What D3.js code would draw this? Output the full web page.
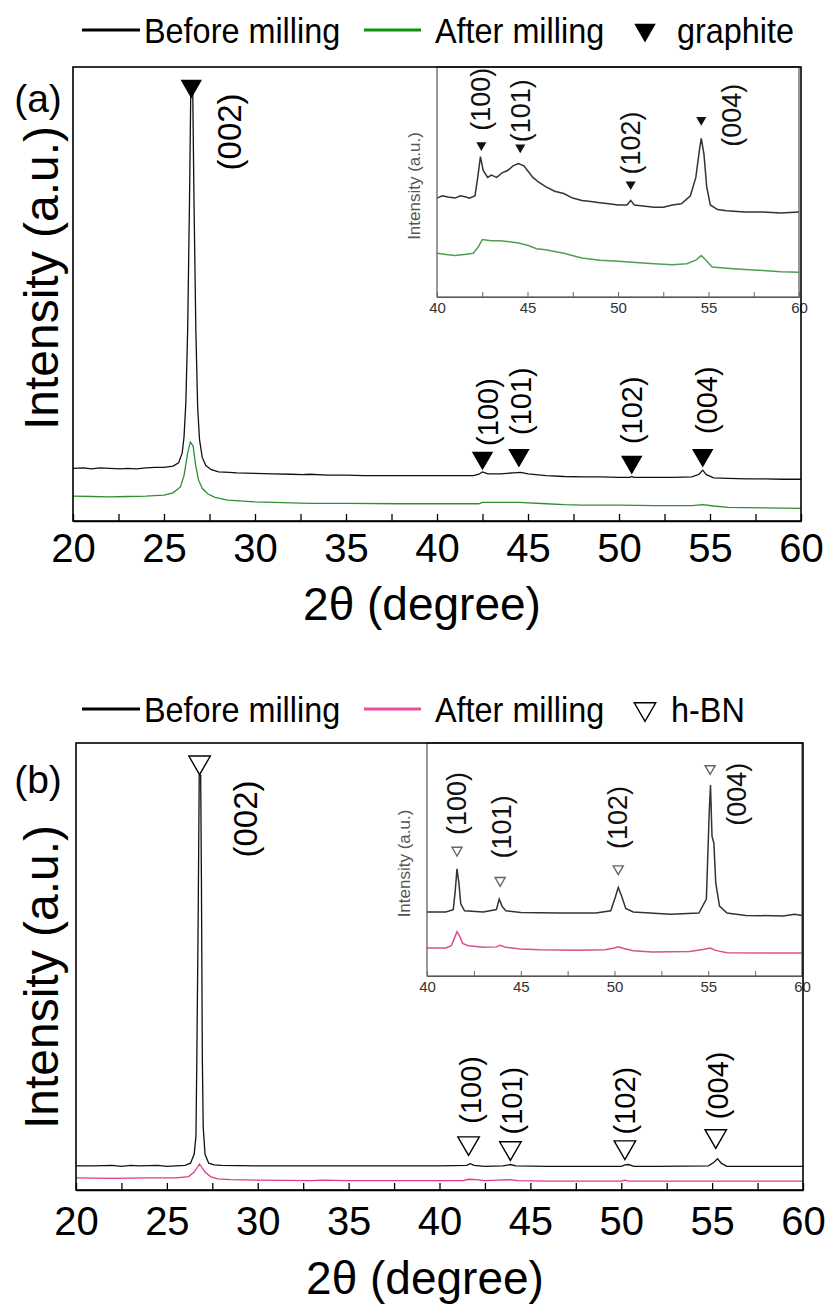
<!DOCTYPE html>
<html>
<head>
<meta charset="utf-8">
<script src="https://cdn.jsdelivr.net/npm/d3@7"></script>
<style>
  html, body { margin: 0; padding: 0; background: #fff; }
  svg { display: block; font-family: "Liberation Sans", Arial, Helvetica, sans-serif; }
</style>
</head>
<body>
<svg id="fig" width="827" height="1311"></svg>
<script>
// ---------- axis ticks ----------
const mainTickValues = [20, 22.5, 25, 27.5, 30, 32.5, 35, 37.5, 40, 42.5, 45, 47.5, 50, 52.5, 55, 57.5, 60];
const mainTickLabels = [20, 25, 30, 35, 40, 45, 50, 55, 60];
const insetTickValues = [40, 42.5, 45, 47.5, 50, 52.5, 55, 57.5, 60];
const insetTickLabels = [40, 45, 50, 55, 60];

// ---------- (a) graphite, full scan [2theta, intensity a.u.] ----------
const graphiteBefore = [
  [20,116],[20.6,117],[21,115],[21.5,117],[22,116],[22.6,115],[23,116],[23.5,115],[24,117],[24.5,118],
  [25,118],[25.5,121],[25.8,128],[26.0,150],[26.1,185],[26.2,260],[26.3,420],[26.4,700],[26.47,943],
  [26.58,943],[26.65,700],[26.75,420],[26.85,250],[26.95,180],[27.1,140],[27.3,122],[27.6,113],[28,108],
  [28.6,107],[29,106],[30,105],[31,104],[32,103],[32.6,102],[33,103],[34,101],[35,101],[36,100],[38,100],
  [40,100],[41,100],[42,100],[42.3,103],[42.5,108],[42.8,104],[43.5,104],[44.2,106],[44.6,107],[45,104],
  [46,100],[47,98],[48,97],[49,97],[50,96],[50.6,96],[50.7,98],[50.8,96],[52,96],[53,96],[54,97],
  [54.4,103],[54.6,112],[54.8,102],[55.2,95],[56,94],[57,93],[58,93],[59,92],[60,92]
];
const graphiteAfter = [
  [20,55],[21,54],[22,53],[23,54],[24,55],[25,57],[25.5,62],[25.9,75],[26.1,100],[26.3,150],[26.45,174],
  [26.6,165],[26.75,120],[26.9,90],[27.1,72],[27.4,60],[27.8,52],[28.5,46],[30,42],[32,40],[33,39],
  [35,39],[38,38],[40,38],[42.3,38],[42.5,41],[44.5,41],[46,38],[47,36],[48,35],[50,35],[52,34],
  [54,34],[54.6,36],[55.2,33],[56,30],[58,29],[60,28]
];
// (a) inset, 40-60 deg
const graphiteBeforeZoom = [
  [40,43],[40.3,44],[40.6,43.5],[41,43],[41.3,44],[41.6,43.5],[41.8,43],[42.1,44],[42.25,52],[42.4,61],
  [42.55,55],[42.8,52],[43,53],[43.3,52],[43.6,54],[43.9,55],[44.2,57],[44.5,58],[44.8,57],[45,55],
  [45.3,52],[45.6,50],[46,48],[46.5,46],[47,45],[47.5,43],[48,42],[48.5,41.5],[49,41],[49.5,40.5],
  [50,40],[50.5,40],[50.7,42],[50.9,40],[51.5,39.5],[52,39],[52.5,39],[53,40],[53.5,40.5],[54,44],
  [54.3,52],[54.5,64],[54.6,69],[54.75,62],[54.9,48],[55.1,40],[55.5,38],[56,37.5],[57,37],[58,37],
  [59,36.5],[60,37]
];
const graphiteAfterZoom = [
  [40,19],[40.5,18.5],[41,18],[41.5,18.5],[42,19],[42.3,22],[42.5,25],[43,24.5],[43.5,24.5],[44,24],
  [44.5,23.5],[45,22.5],[45.5,21],[46,20.5],[47,19],[48,17],[49,16],[50,15.5],[51,15],[52,14.5],
  [53,14],[53.8,14.5],[54.3,16],[54.6,18],[54.8,16.5],[55.2,13],[56,12.5],[57,12],[58,11.5],[59,11],
  [60,10.8]
];

// ---------- (b) h-BN, full scan ----------
const hbnBefore = [
  [20,54],[21,54],[22,55],[22.5,53],[23,55],[23.5,54],[24.5,55],[25,53],[25.5,54],[26,55],[26.3,60],
  [26.5,80],[26.6,120],[26.65,300],[26.72,600],[26.78,928],[26.86,928],[26.9,700],[26.95,300],[27,140],
  [27.1,80],[27.3,60],[27.6,56],[28,55],[30,54],[35,54],[40,54],[41.5,55],[41.7,59],[41.9,55],[42.5,53],
  [43.5,54],[43.9,57],[44.2,54],[46,53],[50,53],[50.2,56],[50.4,57],[50.7,53],[52,53],[54.8,54],
  [55.1,62],[55.3,70],[55.5,60],[55.8,53],[57,53],[60,53]
];
const hbnAfter = [
  [20,27],[22,26],[24,27],[25.5,27],[26.2,30],[26.5,40],[26.7,52],[26.8,58],[26.9,52],[27.1,40],
  [27.4,30],[27.8,25],[28.5,23],[30,22],[33,21],[33.5,22],[35,21],[40,21],[41.3,21],[41.6,24],[42,23],
  [42.5,21],[43.2,22],[43.9,23],[44.3,21],[46,20],[50,20],[50.2,22],[50.4,20],[55,20],[60,20]
];
// (b) inset, 40-60 deg
const hbnBeforeZoom = [
  [40,27.5],[41,27.5],[41.4,28.5],[41.5,36],[41.6,46],[41.7,40],[41.8,31],[42,28],[43,27.5],[43.7,28.5],
  [43.85,33],[44,30],[44.2,28],[45,27.3],[47,27],[49,27],[49.8,28],[50.05,34],[50.2,38],[50.35,35],
  [50.6,29],[51,27.5],[53,26.5],[54.5,27],[54.9,33],[55.05,70],[55.12,82],[55.2,60],[55.3,57],[55.4,40],
  [55.6,30],[56,27],[57,26],[59,25.8],[59.6,26.5],[60,26]
];
const hbnAfterZoom = [
  [40,12],[41,12],[41.3,13],[41.5,17],[41.6,19],[41.75,17],[41.9,14],[42.2,13],[43,12.3],[43.7,12.5],
  [43.9,13.2],[44.2,12.3],[45,11.6],[46,11.3],[48,11.1],[49.5,11.3],[50,12],[50.2,12.5],[50.5,11.8],
  [51,10.8],[52,10.3],[54,10.5],[54.8,11.5],[55.1,12],[55.4,11],[56,10],[58,9.9],[60,9.9]
];

// ---------- reflections ----------
const graphiteHkl = ["(002)", "(100)", "(101)", "(102)", "(004)"];
const graphitePos = [26.5, 42.5, 44.5, 50.7, 54.6];
const graphiteMarkLevel = [958, 139, 145, 130, 145];
const graphiteLabelPos = [28.6, 42.8, 44.6, 50.7, 54.8];
const graphiteLabelLevel = [857, 240, 264, 244, 266];

const graphiteZoomHkl = ["(100)", "(101)", "(102)", "(004)"];
const graphiteZoomPos = [42.45, 44.6, 50.7, 54.6];
const graphiteZoomMark = [66, 65, 49, 77];
const graphiteZoomLabelPos = [42.4, 44.6, 50.7, 56.3];
const graphiteZoomLabelLevel = [86, 81, 67, 79];

const hbnHkl = ["(002)", "(100)", "(101)", "(102)", "(004)"];
const hbnPos = [26.8, 41.6, 43.9, 50.2, 55.2];
const hbnMarkLevel = [957, 105, 94, 96, 121];
const hbnLabelPos = [29.3, 41.7, 44.0, 50.2, 55.3];
const hbnLabelLevel = [830, 224, 200, 200, 234];

const hbnZoomHkl = ["(100)", "(101)", "(102)", "(004)"];
const hbnZoomPos = [41.6, 43.9, 50.2, 55.1];
const hbnZoomMark = [54, 41, 46, 89];
const hbnZoomLabelPos = [41.6, 44.0, 50.15, 56.5];
const hbnZoomLabelLevel = [74, 64, 68, 78];

// ---------- drawing ----------
const svg = d3.select("#fig");

function tri(g, cx, cy, size, filled, color) {
  g.append("path")
    .attr("d", d3.symbol().type(d3.symbolTriangle).size(size)())
    .attr("transform", `translate(${cx},${cy}) rotate(180)`)
    .attr("fill", filled ? color : "#fff")
    .attr("stroke", color)
    .attr("stroke-width", filled ? 0 : 1.4);
}

function rotLabel(g, x, y, text, size, color) {
  g.append("text")
    .attr("transform", `translate(${x},${y}) rotate(-90)`)
    .attr("text-anchor", "middle")
    .attr("dy", "0.35em")
    .attr("font-size", size)
    .attr("fill", color)
    .text(text);
}

// slightly narrow legend lettering
function legendText(g, x, y, text) {
  g.append("text")
    .attr("transform", `translate(${x},${y}) scale(0.9,1)`)
    .attr("dy", "0.35em")
    .attr("font-size", 36)
    .text(text);
}

function drawPanel(p) {
  const g = svg.append("g");
  const x = d3.scaleLinear().domain([20, 60]).range([p.frame.x0, p.frame.x1]);
  const y = d3.scaleLinear().domain([0, 1000]).range([p.frame.y1, p.frame.y0]);
  const line = d3.line().x(d => x(d[0])).y(d => y(d[1]));

  // legend
  const lg = g.append("g");
  lg.append("line").attr("x1", 82).attr("x2", 140).attr("y1", p.legendY).attr("y2", p.legendY)
    .attr("stroke", "#000").attr("stroke-width", 3);
  legendText(lg, 144, p.legendY, "Before milling");
  lg.append("line").attr("x1", 364).attr("x2", 421).attr("y1", p.legendY).attr("y2", p.legendY)
    .attr("stroke", p.legendColor).attr("stroke-width", 3);
  legendText(lg, 435, p.legendY, "After milling");
  tri(lg, 645, p.legendY, 200, p.filled, "#000");
  legendText(lg, p.filled ? 677 : 671, p.legendY, p.phase);

  // panel tag and titles
  g.append("text").attr("x", 38).attr("y", p.tagY).attr("dy", "0.35em").attr("text-anchor", "middle")
    .attr("font-size", 39).text(p.tag);
  rotLabel(g, 41, p.yTitleY, "Intensity (a.u.)", 48, "#000");
  g.append("text").attr("x", p.xTitleX).attr("y", p.xTitleY).attr("dy", "0.35em")
    .attr("text-anchor", "middle").attr("font-size", 46).text("2\u03b8 (degree)");

  // traces
  g.append("path").datum(p.after).attr("d", line).attr("fill", "none")
    .attr("stroke", p.afterColor).attr("stroke-width", 1.3);
  g.append("path").datum(p.before).attr("d", line).attr("fill", "none")
    .attr("stroke", "#111").attr("stroke-width", 1.3);

  // reflection markers and labels
  p.hkl.forEach((h, i) => {
    tri(g, x(p.pos[i]), y(p.mark[i]), 200, p.filled, "#000");
    rotLabel(g, x(p.labelPos[i]), y(p.labelLevel[i]), h, i === 0 ? 33 : 29, "#000");
  });

  // inset
  drawInset(g, p);

  // frame and bottom axis
  g.append("rect").attr("x", p.frame.x0).attr("y", p.frame.y0)
    .attr("width", p.frame.x1 - p.frame.x0).attr("height", p.frame.y1 - p.frame.y0)
    .attr("fill", "none").attr("stroke", "#000").attr("stroke-width", 1.6);
  const ax = g.append("g").attr("transform", `translate(0,${p.frame.y1})`)
    .call(d3.axisBottom(x).tickValues(mainTickValues).tickSizeInner(-7).tickSizeOuter(0)
      .tickFormat(d => mainTickLabels.includes(d) ? d : ""));
  ax.select(".domain").attr("stroke", "#000").attr("stroke-width", 1.6);
  ax.selectAll(".tick line").attr("stroke", "#000").attr("stroke-width", 1.3);
  ax.selectAll(".tick text").attr("font-size", 40).attr("fill", "#000")
    .attr("font-family", "Liberation Sans, Arial, sans-serif")
    .attr("y", p.tickLabelY - p.frame.y1).attr("dy", "0.35em");
}

function drawInset(g, p) {
  const b = p.inset;
  const ig = g.append("g");
  ig.append("rect").attr("x", b.x0 - 36).attr("y", b.y0).attr("width", b.x1 - b.x0 + 36)
    .attr("height", b.y1 - b.y0 + 24).attr("fill", "#fff");
  const x = d3.scaleLinear().domain([40, 60]).range([b.x0, b.x1]);
  const y = d3.scaleLinear().domain([0, 100]).range([b.y1, b.y0]);
  const line = d3.line().x(d => x(d[0])).y(d => y(d[1]));

  ig.append("path").datum(p.afterZoom).attr("d", line).attr("fill", "none")
    .attr("stroke", p.afterZoomColor).attr("stroke-width", 1.5);
  ig.append("path").datum(p.beforeZoom).attr("d", line).attr("fill", "none")
    .attr("stroke", "#333").attr("stroke-width", 1.5);

  p.zoomHkl.forEach((h, i) => {
    tri(ig, x(p.zoomPos[i]), y(p.zoomMark[i]), 44, p.filled, p.filled ? "#111" : "#666");
    rotLabel(ig, x(p.zoomLabelPos[i]), y(p.zoomLabelLevel[i]), h, 27, "#111");
  });

  ig.append("rect").attr("x", b.x0).attr("y", b.y0).attr("width", b.x1 - b.x0).attr("height", b.y1 - b.y0)
    .attr("fill", "none").attr("stroke", "#555").attr("stroke-width", 1.2);
  const ax = ig.append("g").attr("transform", `translate(0,${b.y1})`)
    .call(d3.axisBottom(x).tickValues(insetTickValues).tickSizeInner(-5).tickSizeOuter(0)
      .tickFormat(d => insetTickLabels.includes(d) ? d : ""));
  ax.select(".domain").attr("stroke", "#555").attr("stroke-width", 1.2);
  ax.selectAll(".tick line").attr("stroke", "#666");
  ax.selectAll(".tick text").attr("font-size", 15).attr("fill", "#333")
    .attr("font-family", "Liberation Sans, Arial, sans-serif").attr("y", 11).attr("dy", "0.35em");
  rotLabel(ig, b.x0 - 23, (b.y0 + b.y1) / 2 + 4, "Intensity (a.u.)", 17, "#555");
}

drawPanel({
  tag: "(a)", tagY: 98, legendY: 30, yTitleY: 278, tickLabelY: 548, xTitleX: 422, xTitleY: 604,
  frame: { x0: 73, x1: 801, y0: 67, y1: 521 },
  inset: { x0: 437, x1: 799, y0: 67, y1: 297 },
  legendColor: "#0f930f", afterColor: "#2f8f2f", afterZoomColor: "#4f9f4f",
  phase: "graphite", filled: true,
  before: graphiteBefore, after: graphiteAfter,
  beforeZoom: graphiteBeforeZoom, afterZoom: graphiteAfterZoom,
  hkl: graphiteHkl, pos: graphitePos, mark: graphiteMarkLevel,
  labelPos: graphiteLabelPos, labelLevel: graphiteLabelLevel,
  zoomHkl: graphiteZoomHkl, zoomPos: graphiteZoomPos, zoomMark: graphiteZoomMark,
  zoomLabelPos: graphiteZoomLabelPos, zoomLabelLevel: graphiteZoomLabelLevel
});

drawPanel({
  tag: "(b)", tagY: 779, legendY: 709, yTitleY: 977, tickLabelY: 1221, xTitleX: 425, xTitleY: 1278,
  frame: { x0: 76, x1: 803, y0: 743, y1: 1190 },
  inset: { x0: 427, x1: 802, y0: 743, y1: 976 },
  legendColor: "#ee4d9b", afterColor: "#e0388a", afterZoomColor: "#d8508f",
  phase: "h-BN", filled: false,
  before: hbnBefore, after: hbnAfter,
  beforeZoom: hbnBeforeZoom, afterZoom: hbnAfterZoom,
  hkl: hbnHkl, pos: hbnPos, mark: hbnMarkLevel,
  labelPos: hbnLabelPos, labelLevel: hbnLabelLevel,
  zoomHkl: hbnZoomHkl, zoomPos: hbnZoomPos, zoomMark: hbnZoomMark,
  zoomLabelPos: hbnZoomLabelPos, zoomLabelLevel: hbnZoomLabelLevel
});
</script>
</body>
</html>
